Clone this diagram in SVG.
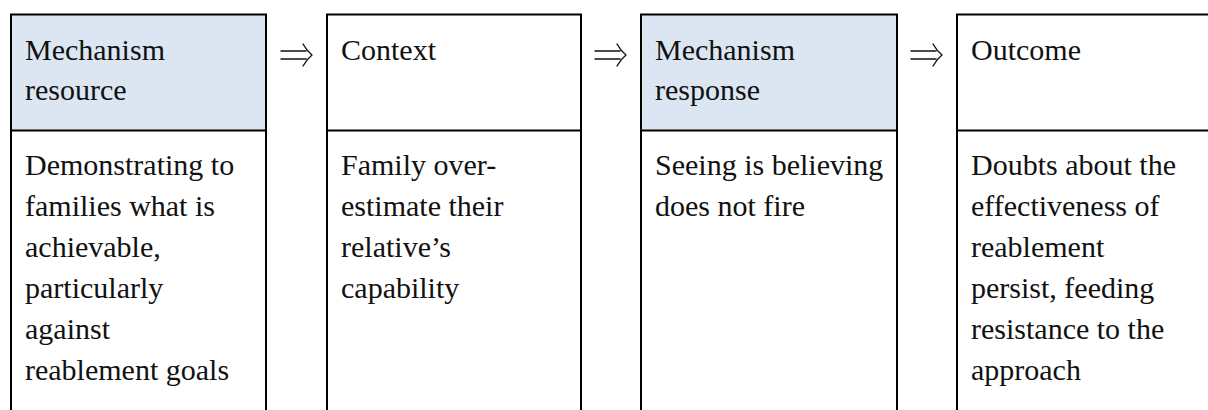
<svg xmlns="http://www.w3.org/2000/svg" width="1208" height="410" viewBox="0 0 1208 410">
  <style>
    .head { fill: #dce6f2; }
    .frame { fill: none; stroke: #000; stroke-width: 2; }
    .t { font-family: "Liberation Serif", "Times New Roman", serif; font-size: 30px; fill: #111; }
    .implies { fill: none; stroke: #111; stroke-width: 1.4; stroke-linecap: round; stroke-linejoin: round; }
  </style>
  <defs>
    <!-- double-stroked "implies" arrow, drawn from its left end -->
    <path id="implies" class="implies" d="M0 0 H25 M0 8 H25 M22 -7 Q26 0 31 4 Q26 8 22 15"/>
  </defs>
  <rect width="1208" height="410" fill="#ffffff"/>

  <!-- Column 1: mechanism resource -->
  <g id="mechanism-resource">
    <rect class="head" x="11" y="14" width="255" height="116"/>
    <path class="frame" d="M11 412 V14.5 H266 V412 M11 130.5 H266"/>
    <text class="t" x="25" y="60">Mechanism</text>
    <text class="t" x="25" y="100">resource</text>
    <text class="t" x="25" y="175">Demonstrating to</text>
    <text class="t" x="25" y="216">families what is</text>
    <text class="t" x="25" y="257">achievable,</text>
    <text class="t" x="25" y="298">particularly</text>
    <text class="t" x="25" y="339">against</text>
    <text class="t" x="25" y="380">reablement goals</text>
  </g>

  <!-- Column 2: context -->
  <g id="context">
    <path class="frame" d="M327 412 V14.5 H581 V412 M327 130.5 H581"/>
    <text class="t" x="341" y="60">Context</text>
    <text class="t" x="341" y="175">Family over-</text>
    <text class="t" x="341" y="216">estimate their</text>
    <text class="t" x="341" y="257">relative’s</text>
    <text class="t" x="341" y="298">capability</text>
  </g>

  <!-- Column 3: mechanism response -->
  <g id="mechanism-response">
    <rect class="head" x="641" y="14" width="256" height="116"/>
    <path class="frame" d="M641 412 V14.5 H897 V412 M641 130.5 H897"/>
    <text class="t" x="655" y="60">Mechanism</text>
    <text class="t" x="655" y="100">response</text>
    <text class="t" x="655" y="175">Seeing is believing</text>
    <text class="t" x="655" y="216">does not fire</text>
  </g>

  <!-- Column 4: outcome (runs past the right edge) -->
  <g id="outcome">
    <path class="frame" d="M957 412 V14.5 H1212 M957 130.5 H1212"/>
    <text class="t" x="971" y="60">Outcome</text>
    <text class="t" x="971" y="175">Doubts about the</text>
    <text class="t" x="971" y="216">effectiveness of</text>
    <text class="t" x="971" y="257">reablement</text>
    <text class="t" x="971" y="298">persist, feeding</text>
    <text class="t" x="971" y="339">resistance to the</text>
    <text class="t" x="971" y="380">approach</text>
  </g>

  <!-- Implication arrows between columns -->
  <g id="connectors">
    <use href="#implies" x="281" y="51"/>
    <use href="#implies" x="595" y="51"/>
    <use href="#implies" x="911" y="51"/>
  </g>
</svg>
